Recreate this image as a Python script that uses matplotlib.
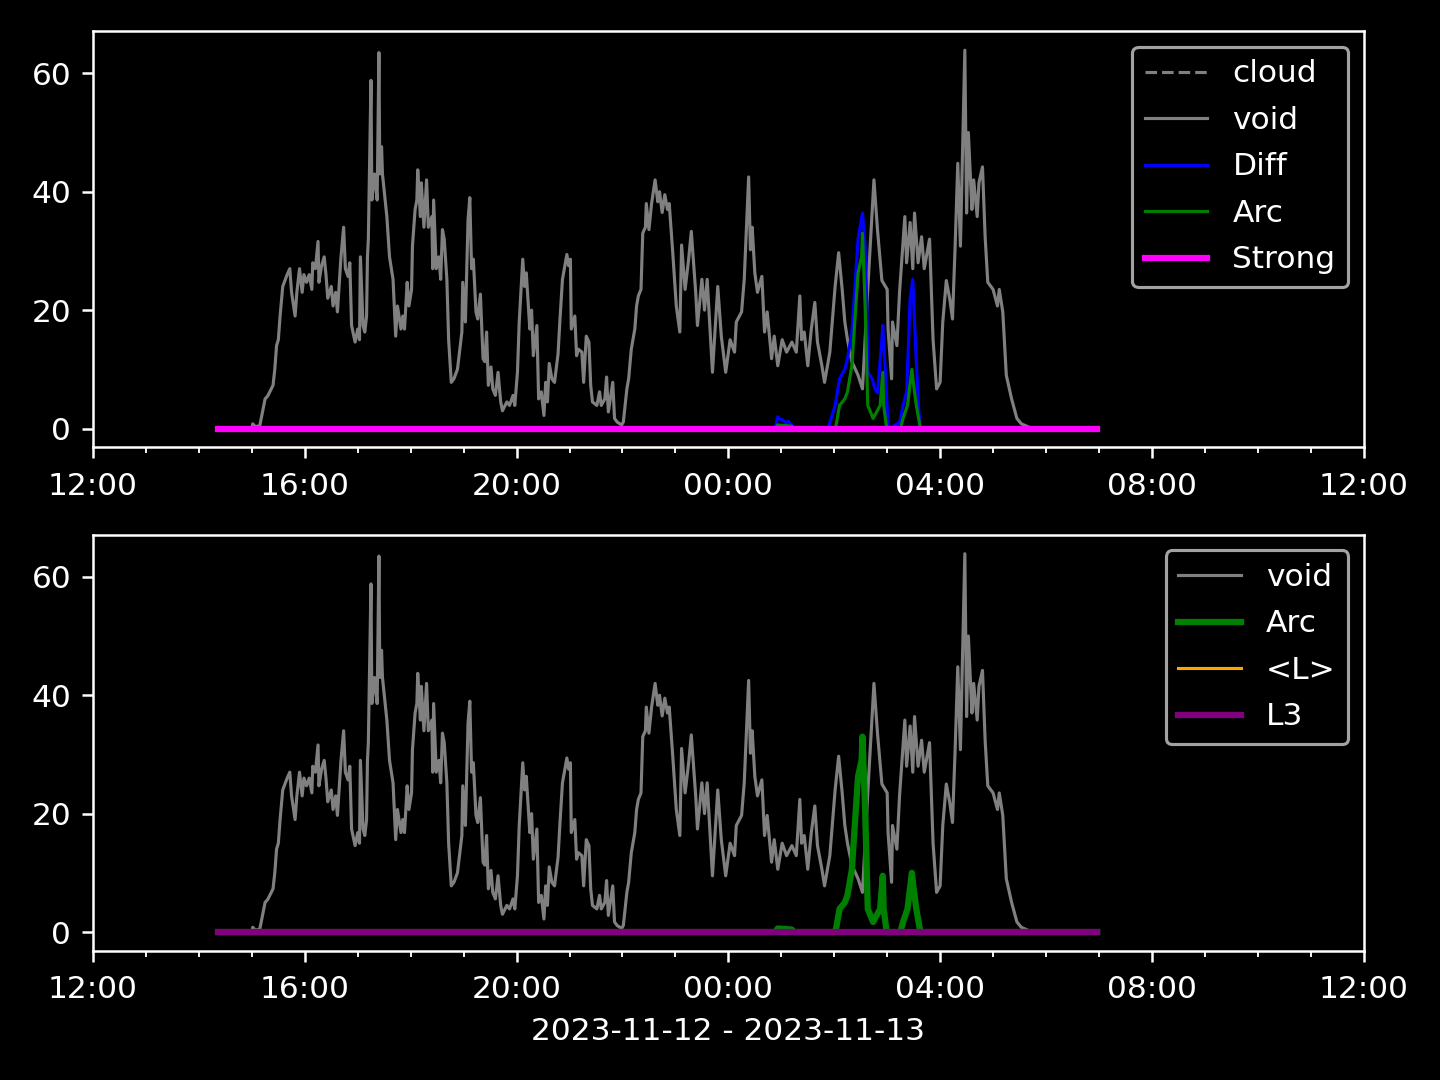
import matplotlib
matplotlib.use("Agg")
import matplotlib.pyplot as plt
import matplotlib.dates as mdates
import pandas as pd

plt.style.use("dark_background")

# ---------------- data ----------------
base_times = ["14:22", "06:58"]
cloud_values = [0, 0]
strong_values = [0, 0]
meanL_values = [0, 0]
l3_values = [0, 0]

void_times = [
    "14:22", "15:00", "15:01", "15:04", "15:09", "15:15", "15:18", "15:24", "15:26", "15:28",
    "15:30", "15:32", "15:35", "15:40", "15:43", "15:45", "15:49", "15:51", "15:54", "15:57",
    "15:59", "16:02", "16:05", "16:08", "16:09", "16:12", "16:15", "16:16", "16:19", "16:22",
    "16:24", "16:26", "16:30", "16:32", "16:35", "16:37", "16:41", "16:44", "16:46", "16:49",
    "16:51", "16:53", "16:57", "17:00", "17:02", "17:03", "17:06", "17:08", "17:10", "17:11",
    "17:12", "17:15", "17:16", "17:19", "17:22", "17:24", "17:25", "17:27", "17:28", "17:33",
    "17:36", "17:40", "17:43", "17:45", "17:49", "17:51", "17:53", "17:56", "17:58", "18:01",
    "18:02", "18:05", "18:07", "18:08", "18:11", "18:12", "18:15", "18:18", "18:20", "18:24",
    "18:25", "18:26", "18:29", "18:32", "18:34", "18:36", "18:38", "18:41", "18:43", "18:46",
    "18:49", "18:53", "18:58", "18:59", "19:02", "19:05", "19:07", "19:09", "19:11", "19:14",
    "19:16", "19:19", "19:22", "19:24", "19:26", "19:28", "19:31", "19:33", "19:36", "19:39",
    "19:42", "19:44", "19:49", "19:52", "19:56", "19:58", "20:01", "20:03", "20:07", "20:09",
    "20:11", "20:15", "20:17", "20:19", "20:23", "20:25", "20:28", "20:31", "20:33", "20:35",
    "20:37", "20:40", "20:43", "20:47", "20:49", "20:52", "20:57", "20:59", "21:01", "21:02",
    "21:06", "21:08", "21:10", "21:14", "21:16", "21:19", "21:22", "21:24", "21:26", "21:31",
    "21:34", "21:36", "21:40", "21:42", "21:44", "21:49", "21:51", "21:54", "21:59", "22:01",
    "22:05", "22:07", "22:10", "22:14", "22:16", "22:18", "22:21", "22:23", "22:26", "22:27",
    "22:30", "22:33", "22:37", "22:40", "22:42", "22:45", "22:48", "22:51", "22:53", "22:57",
    "23:01", "23:05", "23:07", "23:11", "23:15", "23:18", "23:23", "23:25", "23:30", "23:33",
    "23:36", "23:42", "23:48", "23:52", "23:57", "00:02", "00:07", "00:09", "00:15", "00:18",
    "00:23", "00:25", "00:27", "00:30", "00:33", "00:38", "00:41", "00:44", "00:49", "00:52",
    "00:56", "01:01", "01:06", "01:12", "01:17", "01:21", "01:23", "01:26", "01:30", "01:34",
    "01:38", "01:41", "01:46", "01:49", "01:55", "02:01", "02:05", "02:09", "02:12", "02:15",
    "02:20", "02:27", "02:32", "02:38", "02:45", "02:49", "02:54", "03:00", "03:01", "03:05",
    "03:06", "03:11", "03:14", "03:20", "03:22", "03:26", "03:29", "03:31", "03:35", "03:39",
    "03:42", "03:48", "03:52", "03:56", "04:00", "04:03", "04:07", "04:11", "04:14", "04:17",
    "04:20", "04:23", "04:28", "04:30", "04:32", "04:36", "04:38", "04:42", "04:44", "04:48",
    "04:51", "04:54", "05:00", "05:05", "05:07", "05:11", "05:15", "05:21", "05:27", "05:32",
    "05:41", "05:53", "06:58",
]
void_values = [
    0, 0, 0.8, 0.3, 0.5, 5, 5.5, 7.3, 10, 14,
    15, 19, 24, 26, 27, 23, 19, 23, 27, 23,
    26, 24.7, 26, 23.5, 28, 27, 31.6, 24.7, 27.5, 29,
    26, 22, 24, 20.7, 23, 19.7, 29, 34, 27, 25.7,
    28, 17.4, 14.6, 16.8, 15, 29, 17.4, 16.3, 19, 29,
    32, 58.8, 38.6, 43, 38.6, 63.5, 43, 47.6, 43, 35.8,
    29, 25.2, 15.6, 20.7, 16.8, 19, 16.8, 24.7, 20.7, 23.5,
    30.8, 37, 38.6, 43.7, 35.8, 41.5, 34, 42, 34, 35.8,
    27, 38.6, 27, 29, 25.2, 33.6, 32, 25.2, 15, 7.8,
    8.4, 10, 16.3, 24.7, 18, 35.3, 39, 27, 28.6, 19.7,
    18.5, 22.7, 11.8, 11.3, 16.3, 7.3, 10.4, 6.7, 5.6, 9.5,
    4.5, 3, 4.5, 3.9, 5.6, 3.9, 9.5, 18, 28.6, 24,
    26.3, 16.8, 20, 12.3, 17.4, 5, 6.2, 2.2, 7.8, 4.5,
    11, 8.4, 7.8, 12.6, 18, 25.2, 29.4, 27.5, 28.6, 16.8,
    19, 12.3, 13.4, 12.9, 7.8, 15.6, 14.6, 7.3, 4.5, 3.9,
    6.2, 3.9, 5, 8.7, 2.8, 7.8, 1.7, 1.1, 0.6, 1.1,
    6.7, 8.4, 13.4, 16.8, 20.7, 22.4, 23.5, 33, 34, 38,
    33.6, 38, 42, 38.3, 40, 36.5, 39.5, 37, 38, 29.7,
    20.7, 16.3, 31, 23.5, 28.6, 33.3, 23, 17.4, 25.2, 20,
    25.2, 9.5, 24, 15.6, 9.5, 15, 12.9, 18, 19.7, 25.2,
    42.5, 30.2, 34, 26.3, 23, 25.7, 16.3, 19.7, 11.8, 15.6,
    10.6, 15, 12.9, 14.6, 12.9, 22.4, 15, 16.3, 10.6, 16.8,
    21.3, 14.6, 10.6, 7.8, 12.9, 24, 29.7, 23.5, 18, 15,
    11.3, 9, 6.7, 23.5, 42, 33.6, 25, 23.5, 16.8, 8.4,
    18, 14, 23, 35.8, 28, 34.8, 27, 36.4, 28, 32.4,
    27, 32, 15, 6.7, 7.8, 18, 25, 21.8, 18.5, 30.8,
    44.8, 30.8, 63.9, 36.4, 50, 37, 42, 35.8, 41.5, 44.2,
    32.4, 24.7, 23.5, 20.7, 23.5, 19.7, 9, 5, 1.7, 0.8,
    0.2, 0, 0,
]

diff_times = [
    "14:22", "00:53", "00:56", "00:58", "01:01", "01:05", "01:08", "01:12", "01:14", "01:53",
    "02:01", "02:06", "02:12", "02:15", "02:20", "02:23", "02:27", "02:32", "02:35", "02:37",
    "02:38", "02:43", "02:46", "02:49", "02:54", "02:55", "02:58", "03:01", "03:02", "03:14",
    "03:18", "03:22", "03:26", "03:29", "03:31", "03:35", "03:37", "03:38", "06:58",
]
diff_values = [
    0, 0, 2.0, 1.6, 1.5, 1.0, 1.2, 0.6, 0, 0,
    3.9, 8.4, 10, 11.8, 16.3, 23, 32, 36.4, 30.8, 20.7,
    9.5, 8.4, 6.7, 6, 15, 17.4, 9.5, 0.5, 0, 1,
    3.9, 6.2, 21.8, 25.2, 18, 5, 0.5, 0, 0,
]

arc_times = [
    "14:22", "00:53", "00:56", "01:05", "01:12", "01:14", "02:00", "02:02", "02:06", "02:12",
    "02:15", "02:20", "02:23", "02:27", "02:31", "02:32", "02:35", "02:38", "02:44", "02:48",
    "02:52", "02:55", "02:56", "02:59", "03:00", "03:15", "03:18", "03:23", "03:28", "03:30",
    "03:33", "03:37", "03:38", "06:58",
]
arc_values = [
    0, 0, 0.6, 0.5, 0.4, 0, 0, 0.5, 3.9, 5,
    6.2, 10.6, 17.4, 26.3, 29, 33, 20.7, 3.9, 1.7, 2.8,
    3.9, 9.5, 3.9, 0.5, 0, 0, 1.7, 3.9, 10, 7.3,
    3.9, 0.5, 0, 0,
]

date_label = "2023-11-12 - 2023-11-13"


def to_dt(times):
    out = []
    for t in times:
        day = "2023-11-12" if int(t[:2]) >= 12 else "2023-11-13"
        out.append(pd.Timestamp(f"{day} {t}"))
    return out


base_dt = to_dt(base_times)
void_dt = to_dt(void_times)
diff_dt = to_dt(diff_times)
arc_dt = to_dt(arc_times)

plt.rcParams["xtick.major.pad"] = 4.3

fig, (ax1, ax2) = plt.subplots(2, 1, figsize=(6.4, 4.8), dpi=225)
fig.subplots_adjust(left=0.0646, right=0.947, top=0.971, bottom=0.1195, hspace=0.21)

ax1.plot(base_dt, cloud_values, color="gray", linestyle="--", linewidth=1, label="cloud")
ax1.plot(void_dt, void_values, color="gray", linewidth=1, label="void")
ax1.plot(diff_dt, diff_values, color="blue", linewidth=1, label="Diff")
ax1.plot(arc_dt, arc_values, color="green", linewidth=1, label="Arc")
ax1.plot(base_dt, strong_values, color="magenta", linewidth=2, label="Strong")

ax2.plot(void_dt, void_values, color="gray", linewidth=1, label="void")
ax2.plot(arc_dt, arc_values, color="green", linewidth=2, label="Arc")
ax2.plot(base_dt, meanL_values, color="orange", linewidth=1, label="<L>")
ax2.plot(base_dt, l3_values, color="purple", linewidth=2, label="L3")

xmin = pd.Timestamp("2023-11-12 12:00")
xmax = pd.Timestamp("2023-11-13 12:00")
for ax in (ax1, ax2):
    ax.set_xlim(xmin, xmax)
    ax.xaxis.set_major_locator(mdates.HourLocator(byhour=range(0, 24, 4)))
    ax.xaxis.set_minor_locator(mdates.HourLocator())
    ax.xaxis.set_major_formatter(mdates.DateFormatter("%H:%M"))
    ax.set_yticks([0, 20, 40, 60])
    ax.legend(loc="upper right", labelspacing=0.56)

ax2.set_xlabel(date_label)

fig.savefig("out.png", dpi=225)
